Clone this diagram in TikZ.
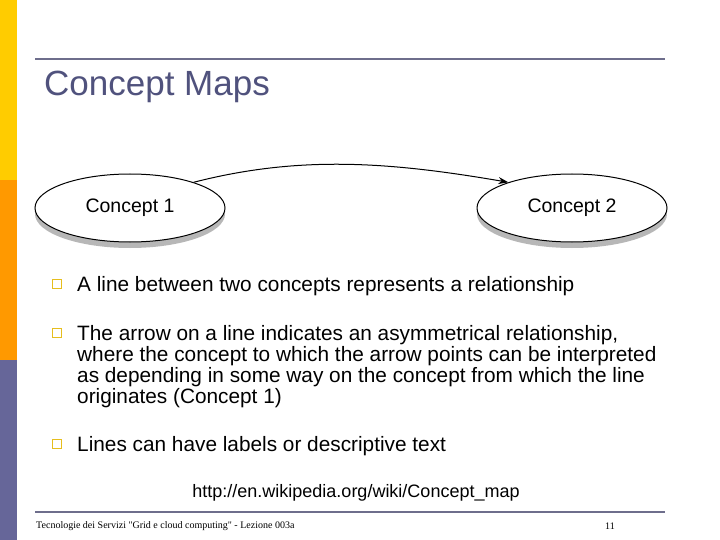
\documentclass[tikz,border=0pt]{standalone}
\usepackage{fontspec}
\setmainfont{Liberation Sans}
\newfontfamily\ser{Liberation Serif}
\usetikzlibrary{shapes.geometric,arrows.meta,shadows}
\definecolor{ttl}{RGB}{80,82,125}
\definecolor{barY}{RGB}{255,204,0}
\definecolor{barO}{RGB}{255,153,0}
\definecolor{barP}{RGB}{102,102,153}
\definecolor{rule}{RGB}{110,110,140}
\definecolor{bul}{RGB}{230,190,30}
\tikzset{concept/.style={ellipse,draw,line width=1pt,fill=white,minimum width=#1,minimum height=68pt,inner sep=0pt,font=\fontsize{19.5}{21}\selectfont,drop shadow={shadow xshift=0pt,shadow yshift=-6pt,opacity=0.4,fill=black!70}},
 bullet/.style={draw=bul,line width=1.4pt,minimum size=8.5pt,inner sep=0pt},
 btext/.style={anchor=base west,align=left,font=\fontsize{20.8}{21}\selectfont,inner sep=0pt}}
\begin{document}
\begin{tikzpicture}[x=1pt,y=-1pt]
\useasboundingbox (0,0) rectangle (720,540);
\fill[white] (0,0) rectangle (720,540);
\fill[barY] (0,0) rectangle (17,180);
\fill[barO] (0,180) rectangle (17,360);
\fill[barP] (0,360) rectangle (17,540);
\draw[rule,line width=1.3pt] (35,59) -- (665,59);
\node[anchor=west,text=ttl,font=\fontsize{35}{38}\selectfont,inner sep=0pt] (title) at (44,87) {Concept Maps};
\node[concept=190pt] (c1) at (130,208) {Concept 1};
\node[concept=190pt] (c2) at (572,208) {Concept 2};
\draw[-{Stealth[length=10pt,width=7pt]},line width=1pt] (c1.22) .. controls (300,155) and (390,162) .. (c2.158);
\node[bullet] (b1) at (57,284) {};
\node[btext] (t1) at (77,291) {A line between two concepts represents a relationship};
\node[bullet] (b2) at (57,333) {};
\node[btext] (t2) at (77,340) {The arrow on a line indicates an asymmetrical relationship,};
\node[btext] (t2b) at (77,361) {where the concept to which the arrow points can be interpreted};
\node[btext] (t2c) at (77,382) {as depending in some way on the concept from which the line};
\node[btext] (t2d) at (77,403) {originates (Concept 1)};
\node[bullet] (b3) at (57,444) {};
\node[btext] (t3) at (77,451) {Lines can have labels or descriptive text};
\node[font=\fontsize{18}{20}\selectfont,inner sep=0pt] (url) at (356,493) {http://en.wikipedia.org/wiki/Concept\_map};
\draw[rule,line width=1.2pt] (35,512) -- (665,512);
\node[anchor=west,font=\ser\fontsize{10}{12}\selectfont,inner sep=0pt] (foot) at (36,526) {Tecnologie dei Servizi "Grid e cloud computing" - Lezione 003a};
\node[font=\ser\fontsize{10}{12}\selectfont,inner sep=0pt] (pg) at (610,526) {11};
\end{tikzpicture}
\end{document}
